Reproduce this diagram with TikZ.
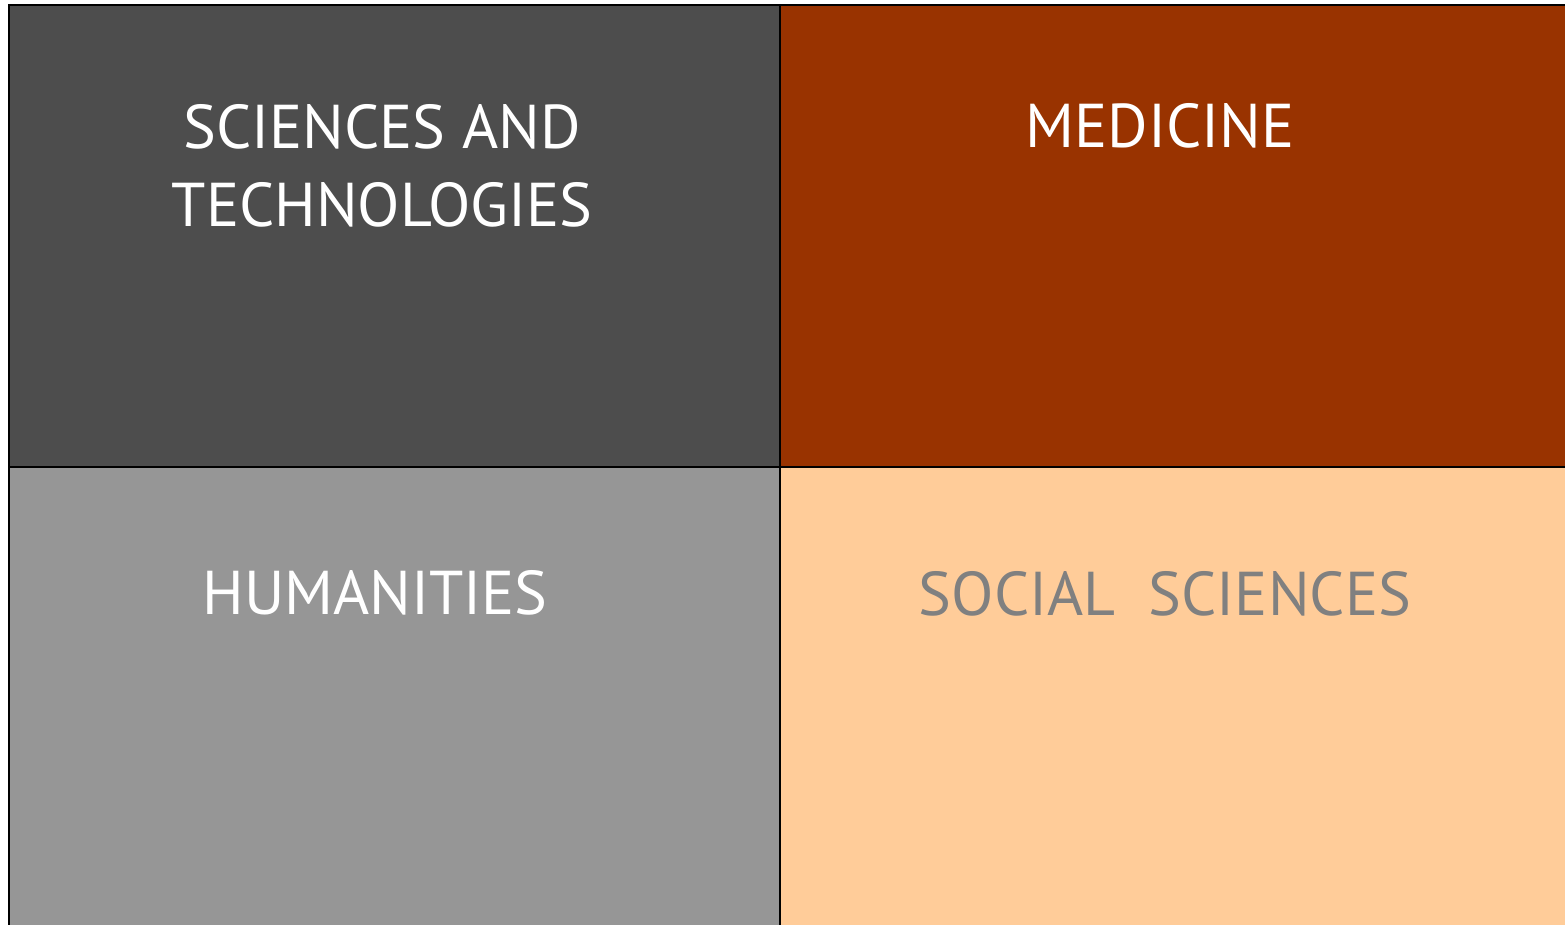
\documentclass[tikz,border=0pt]{standalone}
\usepackage{fontspec}
\setmainfont{PT Sans}
\definecolor{sciencegray}{HTML}{4D4D4D}
\definecolor{medbrown}{HTML}{993300}
\definecolor{humgray}{HTML}{969696}
\definecolor{socpeach}{HTML}{FFCC99}
\definecolor{soctext}{HTML}{808080}
\tikzset{label/.style={font=\fontsize{44}{55}\selectfont, align=center, text=white}}
\begin{document}
\begin{tikzpicture}[x=0.025cm, y=-0.025cm]
		\useasboundingbox (0, 0) rectangle (1565, 925);
		\filldraw[color=sciencegray, draw=black, line width=1.4pt] (9, 5) rectangle (780, 467);
		\filldraw[color=medbrown, draw=black, line width=1.4pt] (780, 5) rectangle (1580, 467);
		\filldraw[color=humgray, draw=black, line width=1.4pt] (9, 467) rectangle (780, 940);
		\filldraw[color=socpeach, draw=black, line width=1.4pt] (780, 467) rectangle (1580, 940);
		\node[label] (sci) at (382, 166) {SCIENCES AND\\TECHNOLOGIES};
		\node[label] (med) at (1160, 126) {MEDICINE};
		\node[label] (hum) at (375, 593) {HUMANITIES};
		\node[label, text=soctext] (soc) at (1165, 594) {SOCIAL\ \ SCIENCES};
		\end{tikzpicture}
\end{document}
